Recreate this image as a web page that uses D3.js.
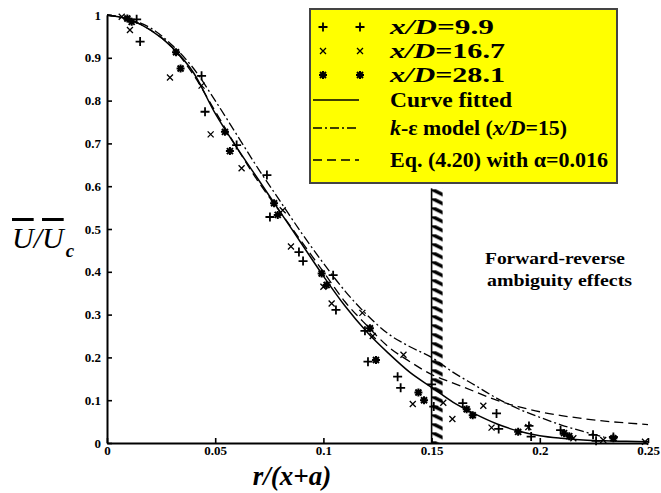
<!DOCTYPE html>
<html>
<head>
<meta charset="utf-8">
<script src="https://cdn.jsdelivr.net/npm/d3@7"></script>
<style>
  body { margin: 0; background: #fff; }
  text { font-family: "Liberation Serif", "Times New Roman", Times, "Nimbus Roman", "DejaVu Serif Condensed", "DejaVu Serif", serif; }
</style>
</head>
<body>
<div id="chart"></div>
<script>
const width = 661, height = 493;
const margin = ({top: 15, right: 13, bottom: 50, left: 107});

// axis ticks
const xTicks = [0, 0.05, 0.1, 0.15, 0.2, 0.25];
const yTicks = [0, 0.1, 0.2, 0.3, 0.4, 0.5, 0.6, 0.7, 0.8, 0.9, 1];

// curves at fixed r/(x+a) steps
const curveEta   = [0, 0.01, 0.02, 0.03, 0.04, 0.05, 0.06, 0.07, 0.08, 0.09, 0.10, 0.11, 0.12, 0.13, 0.14, 0.15, 0.16, 0.17, 0.18, 0.19, 0.20, 0.21, 0.22, 0.23, 0.24, 0.25];
const fittedVals = [1, 0.99, 0.965, 0.925, 0.865, 0.77, 0.69, 0.615, 0.54, 0.465, 0.39, 0.32, 0.26, 0.21, 0.165, 0.13, 0.095, 0.068, 0.045, 0.028, 0.017, 0.011, 0.007, 0.005, 0.004, 0.003];
const keEta      = [0, 0.01, 0.02, 0.03, 0.04, 0.05, 0.06, 0.07, 0.08, 0.09, 0.10, 0.11, 0.12, 0.13, 0.14, 0.15, 0.16, 0.17, 0.18, 0.19, 0.20, 0.21, 0.22, 0.23];
const keVals     = [1, 0.99, 0.97, 0.93, 0.875, 0.80, 0.72, 0.64, 0.565, 0.49, 0.42, 0.355, 0.30, 0.255, 0.225, 0.20, 0.165, 0.135, 0.105, 0.08, 0.06, 0.042, 0.027, 0.013];
const eqVals     = [1, 0.99, 0.965, 0.925, 0.86, 0.775, 0.69, 0.61, 0.54, 0.47, 0.40, 0.33, 0.275, 0.225, 0.19, 0.16, 0.14, 0.12, 0.10, 0.085, 0.073, 0.064, 0.057, 0.051, 0.047, 0.043];

// measured points
const plusEta = [0.0137, 0.0153, 0.0437, 0.0453, 0.0599, 0.0739, 0.0753, 0.0887, 0.0906, 0.1045, 0.1058, 0.1192, 0.1206, 0.1343, 0.1357, 0.150, 0.151, 0.1644, 0.180, 0.181, 0.195, 0.196, 0.2096, 0.2246, 0.226, 0.234];
const plusVal = [0.99, 0.938, 0.858, 0.774, 0.696, 0.626, 0.528, 0.446, 0.425, 0.392, 0.311, 0.262, 0.19, 0.155, 0.129, 0.137, 0.085, 0.093, 0.069, 0.033, 0.04, 0.015, 0.03, 0.019, 0.005, 0.014];
const crossEta = [0.0068, 0.0106, 0.0291, 0.0437, 0.0479, 0.0622, 0.0812, 0.0850, 0.100, 0.1038, 0.118, 0.1228, 0.137, 0.1413, 0.1554, 0.1596, 0.1739, 0.1777, 0.1947, 0.2155, 0.2293, 0.2486];
const crossVal = [0.996, 0.965, 0.854, 0.835, 0.721, 0.642, 0.544, 0.459, 0.365, 0.326, 0.304, 0.25, 0.206, 0.091, 0.094, 0.056, 0.087, 0.036, 0.037, 0.011, 0.007, 0.003];
const starEta = [0.0094, 0.0114, 0.0319, 0.034, 0.0545, 0.0568, 0.0772, 0.0789, 0.0992, 0.1015, 0.1215, 0.1243, 0.1439, 0.1465, 0.1662, 0.169, 0.190, 0.2112, 0.2136, 0.234];
const starVal = [0.992, 0.984, 0.913, 0.875, 0.727, 0.682, 0.56, 0.533, 0.396, 0.369, 0.268, 0.194, 0.118, 0.10, 0.079, 0.065, 0.026, 0.023, 0.016, 0.011];

const ambiguityStart = 0.15, ambiguityTop = 0.595;

const svg = d3.select('#chart').append('svg')
  .attr('width', width).attr('height', height)
  .attr('viewBox', `0 0 ${width} ${height}`);

const x = d3.scaleLinear().domain([0, 0.25]).range([margin.left, width - margin.right]);
const y = d3.scaleLinear().domain([0, 1]).range([height - margin.bottom, margin.top]);

// hatch pattern for the ambiguity bar
const defs = svg.append('defs');
const pat = defs.append('pattern')
  .attr('id', 'hatch').attr('patternUnits', 'userSpaceOnUse')
  .attr('width', 12).attr('height', 9)
  .attr('y', y(ambiguityTop) + 1);
pat.append('path').attr('d', 'M0,0 L12,6').attr('stroke', '#000').attr('stroke-width', 3.4);

svg.append('rect')
  .attr('x', x(ambiguityStart)).attr('y', y(ambiguityTop))
  .attr('width', 11).attr('height', y(0) - y(ambiguityTop))
  .attr('fill', 'url(#hatch)');
svg.append('line')
  .attr('x1', x(ambiguityStart)).attr('x2', x(ambiguityStart))
  .attr('y1', y(ambiguityTop)).attr('y2', y(0))
  .attr('stroke', '#000').attr('stroke-width', 1.6);

// axes
const fmt = d => String(+d.toFixed(2));
const xAxis = g => g
  .attr('transform', `translate(0,${y(0)})`)
  .call(d3.axisBottom(x).tickValues(xTicks).tickFormat(fmt).tickSize(-5).tickSizeOuter(0).tickPadding(3));
const yAxis = g => g
  .attr('transform', `translate(${x(0)},0)`)
  .call(d3.axisLeft(y).tickValues(yTicks).tickFormat(fmt).tickSize(-5).tickSizeOuter(0).tickPadding(6));

svg.append('g').call(xAxis);
svg.append('g').call(yAxis);
svg.selectAll('.domain').attr('stroke-width', 2);
svg.selectAll('.tick line').attr('stroke-width', 1.6);
svg.selectAll('.tick text')
  .attr('font-family', null)
  .attr('font-weight', 'bold').attr('font-size', 13).attr('fill', '#000');

// curves
const line = d3.line().curve(d3.curveMonotoneX).x(d => x(d[0])).y(d => y(d[1]));
const zip = (a, b) => a.map((v, i) => [v, b[i]]);

svg.append('path').datum(zip(curveEta, eqVals))
  .attr('fill', 'none').attr('stroke', '#000').attr('stroke-width', 1.3)
  .attr('stroke-dasharray', '9,5').attr('d', line);
svg.append('path').datum(zip(keEta, keVals))
  .attr('fill', 'none').attr('stroke', '#000').attr('stroke-width', 1.3)
  .attr('stroke-dasharray', '9,3,2,3').attr('d', line);
svg.append('path').datum(zip(curveEta, fittedVals))
  .attr('fill', 'none').attr('stroke', '#000').attr('stroke-width', 1.5)
  .attr('d', line);

// markers
const plusPath = 'M-4.5,0H4.5M0,-4.5V4.5';
const crossPath = 'M-3,-3L3,3M-3,3L3,-3';
const starPath = 'M-4,0H4M0,-4V4M-3,-3L3,3M-3,3L3,-3';

function drawMarks(etas, vals, p, sw) {
  svg.append('g').selectAll('path')
    .data(zip(etas, vals)).join('path')
    .attr('transform', d => `translate(${x(d[0])},${y(d[1])})`)
    .attr('d', p).attr('stroke', '#000').attr('stroke-width', sw).attr('fill', 'none');
}
drawMarks(plusEta, plusVal, plusPath, 1.8);
drawMarks(crossEta, crossVal, crossPath, 1.3);
drawMarks(starEta, starVal, starPath, 2);

// legend
const lg = svg.append('g');
lg.append('rect')
  .attr('x', 310).attr('y', 9).attr('width', 307).attr('height', 174)
  .attr('fill', '#ffff00').attr('stroke', '#444').attr('stroke-width', 2);

const legendItems = [
  {mark: plusPath, sw: 1.8, label: [['x/D', true], ['=9.9', false]], y: 27, w: 104},
  {mark: crossPath, sw: 1.3, label: [['x/D', true], ['=16.7', false]], y: 51, w: 115},
  {mark: starPath, sw: 2, label: [['x/D', true], ['=28.1', false]], y: 75, w: 115},
  {dash: null, label: [['Curve fitted', false]], y: 100, w: 122},
  {dash: '9,3,2,3', label: [['k', true], ['-ε model (', false], ['x/D', true], ['=15)', false]], y: 128, w: 177},
  {dash: '9,5', label: [['Eq. (4.20) with α=0.016', false]], y: 160, w: 218}
];
legendItems.forEach(it => {
  if (it.mark) {
    [323, 360].forEach(cx => lg.append('path')
      .attr('transform', `translate(${cx},${it.y})`)
      .attr('d', it.mark).attr('stroke', '#000').attr('stroke-width', it.sw).attr('fill', 'none'));
  } else {
    const l = lg.append('line')
      .attr('x1', 313).attr('x2', 359).attr('y1', it.y).attr('y2', it.y)
      .attr('stroke', '#000').attr('stroke-width', 1.5);
    if (it.dash) l.attr('stroke-dasharray', it.dash);
  }
  const t = lg.append('text').attr('x', 390).attr('y', it.y + 7)
    .attr('font-size', it.y > 110 ? 20 : 22).attr('font-weight', 'bold')
    .attr('textLength', it.w).attr('lengthAdjust', 'spacingAndGlyphs');
  it.label.forEach(([s, ital]) => t.append('tspan').text(s).attr('font-style', ital ? 'italic' : 'normal'));
});

// annotation
svg.append('text').attr('x', 485).attr('y', 264)
  .attr('font-size', 17).attr('font-weight', 'bold')
  .attr('textLength', 140).attr('lengthAdjust', 'spacingAndGlyphs')
  .text('Forward-reverse');
svg.append('text').attr('x', 487).attr('y', 286)
  .attr('font-size', 17).attr('font-weight', 'bold')
  .attr('textLength', 145).attr('lengthAdjust', 'spacingAndGlyphs')
  .text('ambiguity effects');

// axis titles
svg.append('text').attr('x', 292).attr('y', 485)
  .attr('text-anchor', 'middle').attr('font-size', 27).attr('font-style', 'italic').attr('font-weight', 'bold')
  .text('r/(x+a)');

const yl = svg.append('text').attr('x', 12).attr('y', 248)
  .attr('font-size', 30).attr('font-style', 'italic');
yl.append('tspan').text('U').attr('text-decoration', 'overline');
yl.append('tspan').text('/');
yl.append('tspan').text('U').attr('text-decoration', 'overline');
yl.append('tspan').text('c').attr('font-size', 19).attr('font-weight', 'bold').attr('dy', 9).attr('dx', 2);
</script>
</body>
</html>
